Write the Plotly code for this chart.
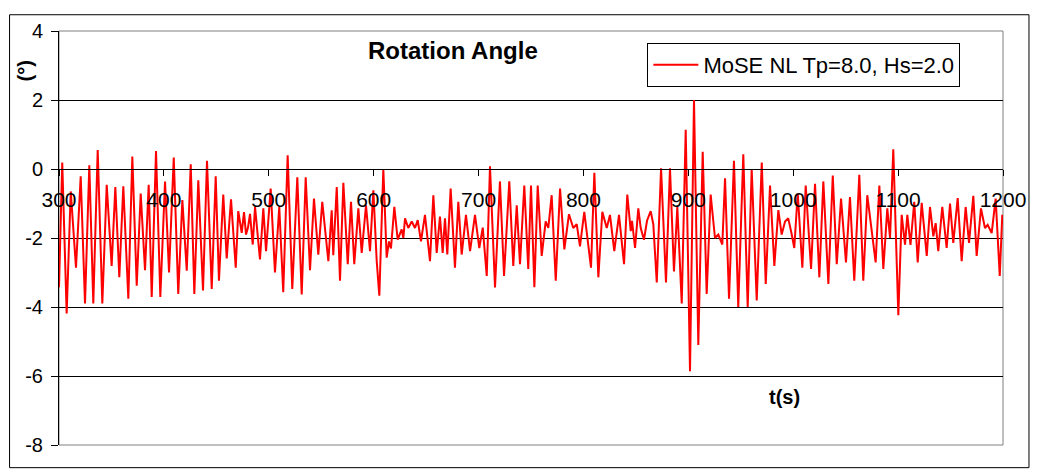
import plotly.graph_objects as go

# ===================== Data =====================
time_s = [
    300.0, 303.1, 307.3, 311.2, 316.2, 320.7, 324.8, 328.9, 332.7, 336.9, 341.3, 345.5,
    350.2, 353.7, 357.5, 361.3, 366.1, 369.9, 374.1, 377.9, 382.0, 385.5,
    388.4, 392.5, 396.6, 401.1, 404.9, 409.4, 413.7, 417.6, 421.8, 425.6, 429.0, 432.8,
    437.3, 441.1, 445.6, 449.4, 452.5, 456.6, 459.9, 464.0, 468.5, 470.9,
    474.2, 476.4, 478.3, 480.2, 482.1, 484.7, 486.9, 491.6, 494.8, 497.4, 501.8, 505.9,
    510.0, 513.8, 518.0, 522.4, 527.2, 531.4, 535.2, 539.3, 543.1, 547.2, 551.0, 556.8,
    560.0, 561.5, 564.8, 567.9,
    571.1, 575.3, 578.4, 581.5, 585.4, 588.6, 592.7, 596.5, 599.7, 602.9, 605.4, 609.2,
    612.4, 614.6, 616.5, 619.7, 622.9, 626.7, 628.3, 629.9, 633.0, 636.3, 639.4, 642.0,
    645.1, 648.9, 653.7, 656.9,
    660.1, 663.2, 665.8, 668.0, 670.2, 673.4, 677.5, 680.7, 683.9, 688.0, 691.9, 696.6,
    700.7, 704.0, 707.8, 710.9, 715.7, 720.4, 724.3, 729.3, 733.1, 736.4, 739.5, 743.6, 747.4,
    750.0, 753.2, 756.4, 760.2, 764.0, 766.5, 769.7, 773.6, 777.7, 781.8, 786.2, 790.3,
    793.6, 796.7, 800.8, 807.2, 810.4, 814.2, 818.0, 822.2, 825.3, 829.4, 833.9,
    838.7, 841.8, 845.1, 846.3, 849.2, 852.3, 854.6, 857.7, 860.6, 864.1, 866.6, 869.9,
    874.0, 878.7, 882.5, 886.3, 889.5, 893.7, 897.5, 901.6, 905.4, 909.5, 913.7, 917.5,
    921.3, 925.4, 928.6,
    932.4, 935.0, 938.8, 943.5, 947.6, 952.4, 956.6, 960.4, 965.2, 970.0, 973.8, 977.9,
    982.0, 985.8, 989.0, 992.2, 995.3, 998.6, 1001.0, 1004.3, 1008.7, 1011.9, 1017.0,
    1020.8, 1024.9, 1028.7, 1033.5, 1037.7, 1041.5, 1045.6, 1050.3, 1054.1, 1058.2, 1063.0,
    1066.8, 1070.6, 1074.8, 1078.6, 1082.1, 1085.9, 1089.7, 1092.3, 1095.4, 1100.2, 1103.4,
    1106.6, 1108.8, 1111.8,
    1115.4, 1118.7, 1122.5, 1127.3, 1130.4, 1133.6, 1135.8, 1138.3, 1142.1, 1146.3, 1149.5,
    1152.6, 1156.8, 1160.6, 1164.4, 1167.6, 1171.7, 1174.9, 1179.0, 1182.8, 1185.4, 1189.2,
    1193.0, 1196.9, 1199.3, 1200.0,
]

rotation_deg = [
    -3.43, 0.19, -4.19, -0.65, -2.86, -0.21, -3.90, 0.11, -3.90, 0.55, -3.90, -0.46,
    -2.81, -0.52, -3.14, -0.50, -3.76, 0.36, -3.38, -0.71, -2.93, -0.46,
    -3.71, 0.52, -3.71, -0.36, -3.00, 0.33, -3.62, -0.90, -2.95, 0.14, -3.62, -0.33,
    -3.52, 0.24, -3.48, -0.21, -3.24, -0.74, -2.59, -0.88, -2.86, -1.22,
    -1.85, -1.25, -1.90, -1.70, -1.30, -2.19, -1.10, -2.62, -1.14, -2.38, -0.57, -3.00,
    -1.10, -3.57, 0.40, -3.48, -0.24, -3.64, -0.24, -2.93, -0.86, -2.48, -0.95, -2.67,
    -1.20, -2.50, -0.52, -3.24,
    -0.40, -2.76, -0.95, -2.76, -1.14, -2.43, -1.05, -2.38, -0.62, -2.67, -3.67, 0.00,
    -2.57, -2.10, -2.30, -1.10, -2.05, -1.75, -2.00, -1.43, -1.71, -1.52, -1.71, -1.48,
    -2.10, -1.33, -2.67, -0.76,
    -2.43, -1.38, -2.43, -1.43, -2.48, -0.57, -2.86, -0.95, -2.48, -1.33, -2.38, -1.33,
    -2.29, -1.70, -3.10, 0.08, -3.43, -0.36, -3.10, -0.36, -2.81, -1.05, -2.76, -0.48, -2.90,
    -0.48, -3.43, -0.48, -2.52, -1.52, -1.71, -0.76, -3.24, -0.57, -2.33, -1.31, -1.71,
    -1.60, -2.24, -1.24, -2.86, -0.11, -3.14, -1.24, -1.71, -1.33, -2.38, -1.33,
    -2.76, -0.74, -1.80, -1.50, -2.29, -1.14, -1.71, -2.05, -1.50, -1.22, -1.60, -3.29,
    0.02, -3.29, 0.02, -2.97, -1.10, -3.90, 1.14, -5.86, 2.00, -5.10, 0.50, -3.62,
    -0.74, -2.00, -1.90,
    -2.19, -0.27, -3.76, 0.24, -4.00, 0.43, -4.00, 0.00, -3.81, 0.19, -3.33, -0.48,
    -2.81, -1.19, -1.90, -1.52, -1.43, -1.90, -2.29, -0.71, -2.86, -0.48, -2.90,
    -0.43, -3.14, -0.36, -3.33, -0.19, -2.76, -0.86, -2.71, -0.81, -3.24, -0.17,
    -3.24, -0.76, -1.71, -2.71, -0.48, -2.90, -1.14, -2.00, 0.57, -4.24, -1.33,
    -2.19, -1.33, -2.20,
    -0.95, -2.71, -0.98, -2.52, -1.10, -1.95, -1.57, -2.38, -1.10, -2.29, -1.00,
    -2.14, -0.84, -2.67, -1.10, -2.14, -0.78, -2.52, -1.14, -1.71, -1.62, -1.86,
    -0.86, -3.10, -1.33, -1.60,
]

x_ticks = [300, 400, 500, 600, 700, 800, 900, 1000, 1100, 1200]
y_ticks = [-8, -6, -4, -2, 0, 2, 4]
y_tick_text = ["-8", "-6", "-4", "-2", "0", "2", "4"]

series_name = "MoSE NL Tp=8.0, Hs=2.0"
FONT = "Liberation Sans, Arial, sans-serif"

# page body adds an 8px offset, so the figure is 8px smaller and margins shifted
fig = go.Figure()
fig.add_trace(go.Scatter(
    x=time_s, y=rotation_deg, mode="lines", name=series_name,
    line=dict(color="#FF0000", width=2),
))

fig.update_layout(
    width=1030, height=463,
    margin=dict(l=51, r=34, t=17, b=26),
    paper_bgcolor="white", plot_bgcolor="white",
    font=dict(family=FONT, size=20, color="black"),
    showlegend=True,
    legend=dict(
        x=(648 - 59) / 945, y=1 - (37 - 25) / 420, xanchor="left", yanchor="top",
        bgcolor="white", bordercolor="black", borderwidth=1, itemwidth=45,
        font=dict(family=FONT, size=22, color="black"),
    ),
)

# ===================== Axes =====================
# x axis sits on the zero line (Excel style), labels underneath
fig.update_xaxes(
    range=[300, 1200], tickvals=x_ticks,
    anchor="free", position=8 / 12,
    showline=True, linecolor="black", linewidth=1,
    ticks="outside", ticklen=6, tickcolor="black",
    ticklabelstandoff=6,
    showgrid=False, zeroline=False,
    tickfont=dict(family=FONT, size=21, color="black"),
)
fig.update_yaxes(
    range=[-8, 4], tickvals=y_ticks, ticktext=y_tick_text,
    showline=True, linecolor="black", linewidth=1,
    ticks="outside", ticklen=7, tickcolor="black",
    ticklabelstandoff=4,
    showgrid=True, gridcolor="black", gridwidth=1, zeroline=False,
    tickfont=dict(family=FONT, size=20, color="black"),
)

# ===================== Titles =====================
fig.add_annotation(text="<b>Rotation Angle</b>", xref="paper", yref="paper",
                   x=(453 - 59) / 945, y=1 - (45 - 25) / 420, showarrow=False,
                   xanchor="center", yanchor="middle",
                   font=dict(family=FONT, size=24, color="black"))
fig.add_annotation(text="<b>(°)</b>", xref="paper", yref="paper",
                   x=(25 - 59) / 945, y=1 - (66 - 25) / 420, showarrow=False,
                   xanchor="center", yanchor="middle", textangle=-90,
                   font=dict(family=FONT, size=20, color="black"))
fig.add_annotation(text="<b>t(s)</b>", xref="paper", yref="paper",
                   x=(785 - 59) / 945, y=1 - (396 - 25) / 420, showarrow=False,
                   xanchor="center", yanchor="middle",
                   font=dict(family=FONT, size=20, color="black"))

# plot-area frame and outer chart border
fig.add_shape(type="rect", xref="paper", yref="paper", x0=0, x1=1, y0=0, y1=1,
              line=dict(color="#808080", width=1), layer="below")
fig.add_shape(type="rect", xref="paper", yref="paper",
              x0=(9.5 - 59) / 945, x1=(1030 - 59) / 945,
              y0=1 - (468 - 25) / 420, y1=1 + (25 - 8.5) / 420,
              line=dict(color="black", width=1))

fig.write_html("out.html")
